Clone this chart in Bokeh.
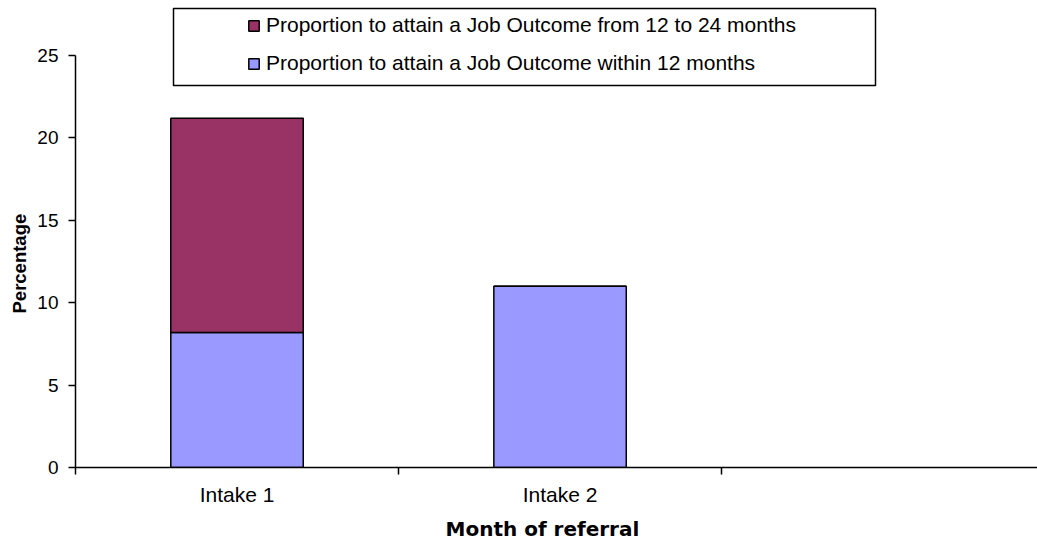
from bokeh.plotting import figure
from bokeh.models import Range1d, FixedTicker, Legend, LegendItem, BoxAnnotation, ColumnDataSource, Title
from bokeh.embed import file_html
from bokeh.resources import INLINE

# ---- data ----
categories = ["Intake 1", "Intake 2"]
within_12 = [8.2, 11.0]
from_12_to_24 = [13.0, 0.0]
y_ticks = [0, 5, 10, 15, 20, 25]
series_labels = ["Proportion to attain a Job Outcome within 12 months",
                 "Proportion to attain a Job Outcome from 12 to 24 months"]
colors = ["#9999FF", "#993366"]
n_slots = 3  # Excel category slots (third is empty)

FONT = "Liberation Sans"

x_pos = [i + 0.5 for i in range(len(categories))]
src = ColumnDataSource(dict(x=x_pos, within=within_12, later=from_12_to_24))

p = figure(width=1037, height=546, x_range=Range1d(0, 2.978), y_range=Range1d(0, 28.34),
           output_backend="svg", toolbar_location=None,
           min_border_left=75, min_border_right=0, min_border_top=0, min_border_bottom=79)
p.xgrid.visible = False
p.ygrid.visible = False
p.outline_line_color = None
p.background_fill_color = "white"
p.border_fill_color = "white"

rs = p.vbar_stack(["within", "later"], x="x", width=0.41, source=src,
                  fill_color=colors, line_color="black", line_width=1.5)

# y axis
ya = p.yaxis[0]
ya.ticker = FixedTicker(ticks=y_ticks, minor_ticks=[])
ya.bounds = (0, 25)
ya.axis_line_width = 1.5
ya.axis_line_color = "black"
ya.major_tick_out = 7
ya.major_tick_in = 0
ya.major_tick_line_width = 1.5
ya.major_tick_line_color = "black"
ya.minor_tick_line_color = None
ya.major_label_text_font = FONT
ya.major_label_text_font_size = "19px"
ya.major_label_text_color = "black"
ya.major_label_standoff = 10

# y axis title, centred on the 0-25 axis line (offset measured from the frame bottom)
ytitle = Title(text="Percentage", align="left", offset=154, text_font=FONT,
               text_font_style="bold", text_font_size="18.5px", text_color="black", standoff=9)
p.add_layout(ytitle, "left")

# x axis
xa = p.xaxis[0]
xa.ticker = FixedTicker(ticks=x_pos, minor_ticks=list(range(n_slots + 1)))
xa.major_label_overrides = {x: c for x, c in zip(x_pos, categories)}
xa.axis_line_width = 1.5
xa.axis_line_color = "black"
xa.major_tick_out = 0
xa.major_tick_in = 0
xa.major_tick_line_color = None
xa.minor_tick_out = 7
xa.minor_tick_in = 0
xa.minor_tick_line_color = "black"
xa.minor_tick_line_width = 1.5
xa.major_label_text_font = FONT
xa.major_label_text_font_size = "21px"
xa.major_label_text_color = "black"
xa.major_label_standoff = 8

# x axis title (offset measured from the frame's left edge)
xtitle = Title(text="Month of referral", align="left", offset=370, text_font="DejaVu Sans",
               text_font_style="bold", text_font_size="20px", text_color="black", standoff=12)
p.add_layout(xtitle, "below")

# legend
legend = Legend(items=[LegendItem(label=series_labels[1], renderers=[rs[1]]),
                       LegendItem(label=series_labels[0], renderers=[rs[0]])],
                location=(172, 392), border_line_color=None, background_fill_alpha=0,
                padding=0, spacing=14, glyph_width=13, glyph_height=13, label_height=13,
                label_text_font=FONT, label_text_font_size="21px", label_standoff=6,
                label_text_color="black")
p.add_layout(legend)

box = BoxAnnotation(left=98, right=800, top=459, bottom=382,
                    left_units="screen", right_units="screen", top_units="screen", bottom_units="screen",
                    fill_color=None, fill_alpha=0, line_color="black", line_alpha=1.0, line_width=1.5)
p.add_layout(box)

open("out.html", "w").write(file_html(p, INLINE))
